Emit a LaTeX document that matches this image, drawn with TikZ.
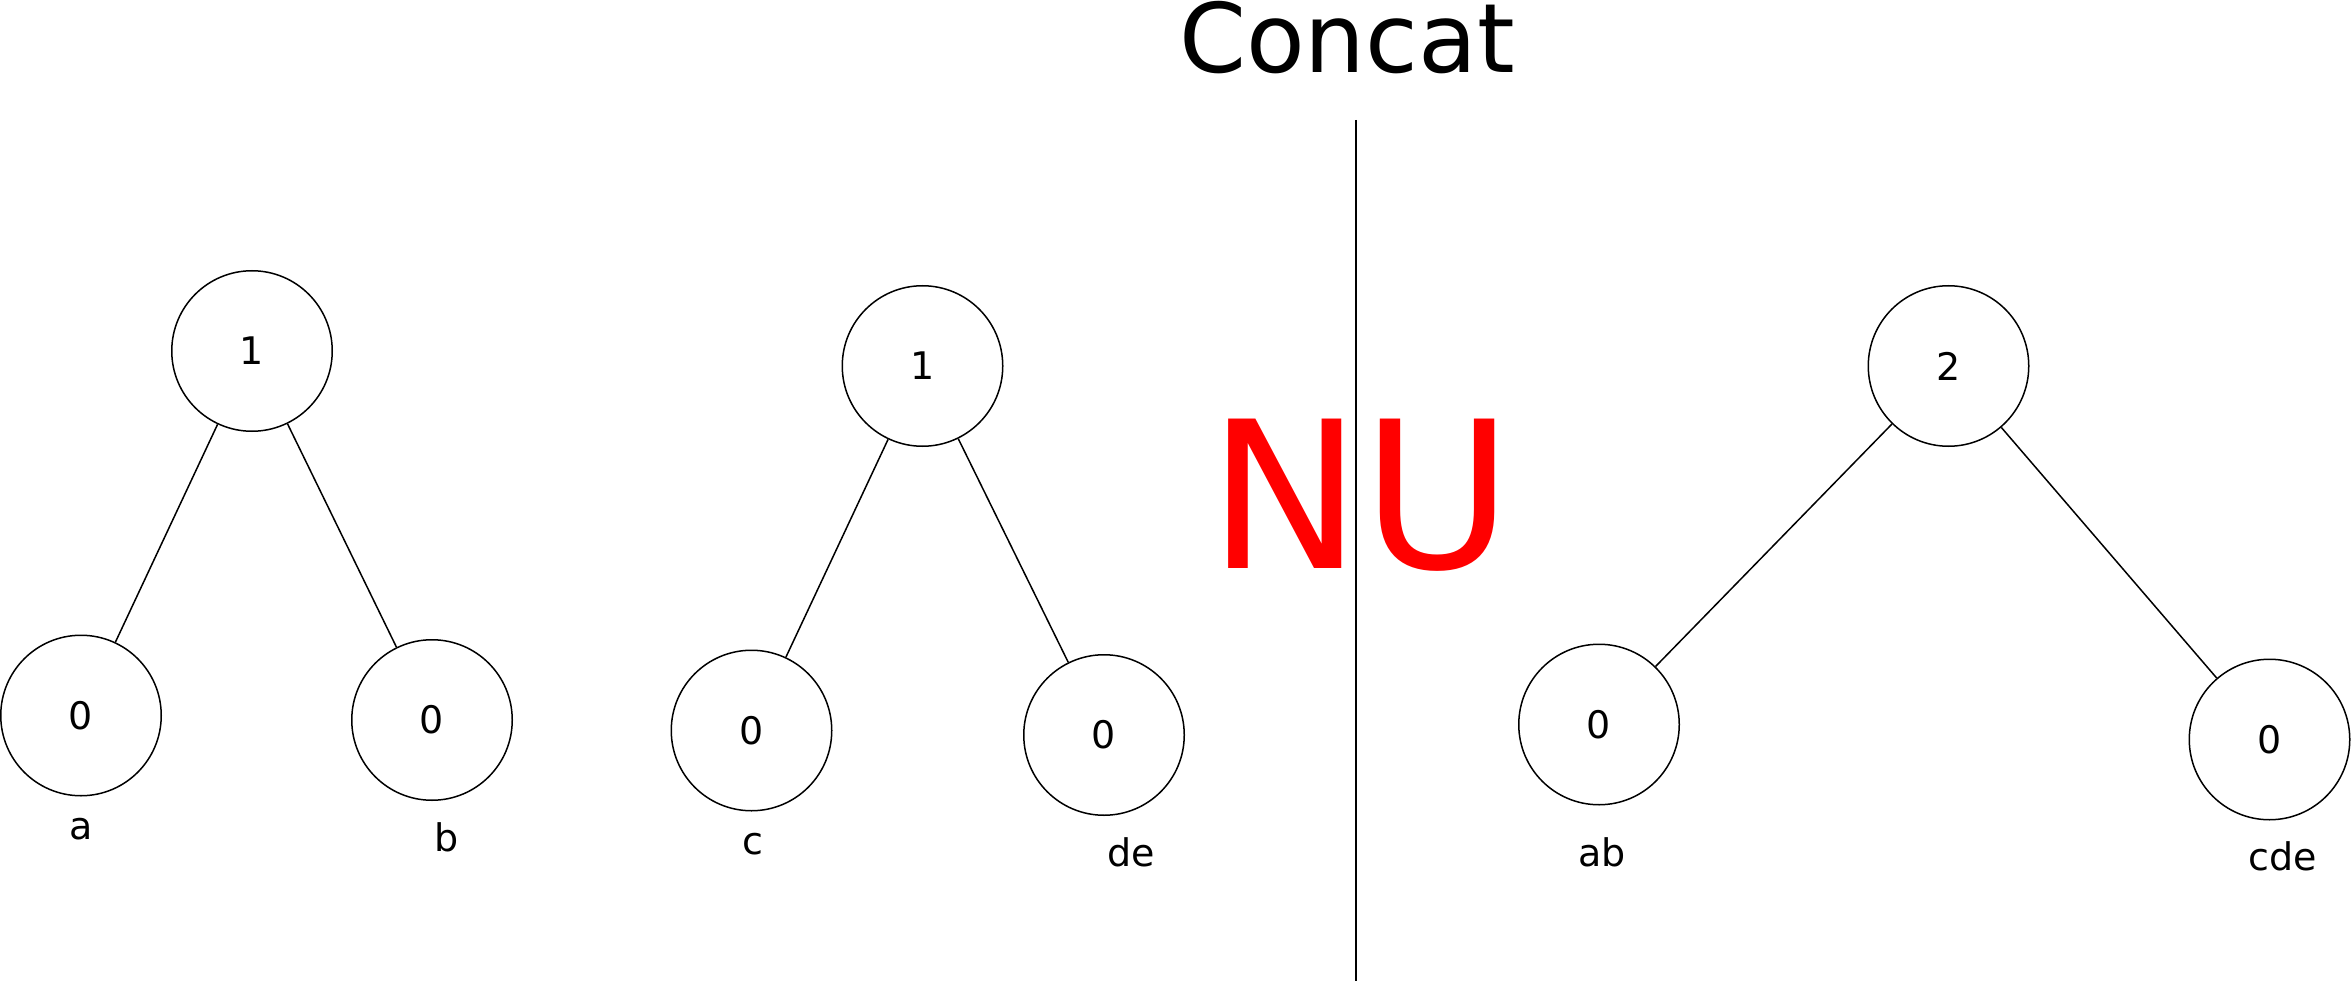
\documentclass[tikz,border=0pt]{standalone}
\usepackage{fontspec}
\setmainfont{DejaVu Sans}
\begin{document}
\begin{tikzpicture}[x=1.5pt,y=-1.5pt,
  nd/.style={circle,draw,line width=1.5pt,minimum size=107*1.5pt,inner sep=0pt,font=\fontsize{38}{42}\selectfont},
  lb/.style={font=\fontsize{38}{42}\selectfont},
  every path/.style={line width=1.5pt}]
\useasboundingbox (0,0) rectangle (1568,654);
\node[nd] (r1) at (168,234) {1};
\node[nd] (a1) at (54,477) {0};
\node[nd] (b1) at (288,480) {0};
\node[nd] (r2) at (615,244) {1};
\node[nd] (c1) at (501,487) {0};
\node[nd] (d1) at (736,490) {0};
\node[nd] (r3) at (1299,244) {2};
\node[nd] (e1) at (1066,483) {0};
\node[nd] (f1) at (1513,493) {0};
\draw (r1)--(a1); \draw (r1)--(b1);
\draw (r2)--(c1); \draw (r2)--(d1);
\draw (r3)--(e1); \draw (r3)--(f1);
\node[lb] (la) at (54,553) {a};
\node[lb] (lb) at (298,558) {b};
\node[lb] (lc) at (502,563) {c};
\node[lb] (ld) at (754,568) {de};
\node[lb] (lab) at (1068,568) {ab};
\node[lb] (lcde) at (1522,571) {cde};
\coordinate (t) at (904,80); \coordinate (u) at (904,654);
\draw (t)--(u);
\node[font=\fontsize{96}{100}\selectfont] (ti) at (898,25) {Concat};
\node[font=\fontsize{205}{220}\selectfont,text=red] (nu) at (907,330) {NU};
\end{tikzpicture}
\end{document}
